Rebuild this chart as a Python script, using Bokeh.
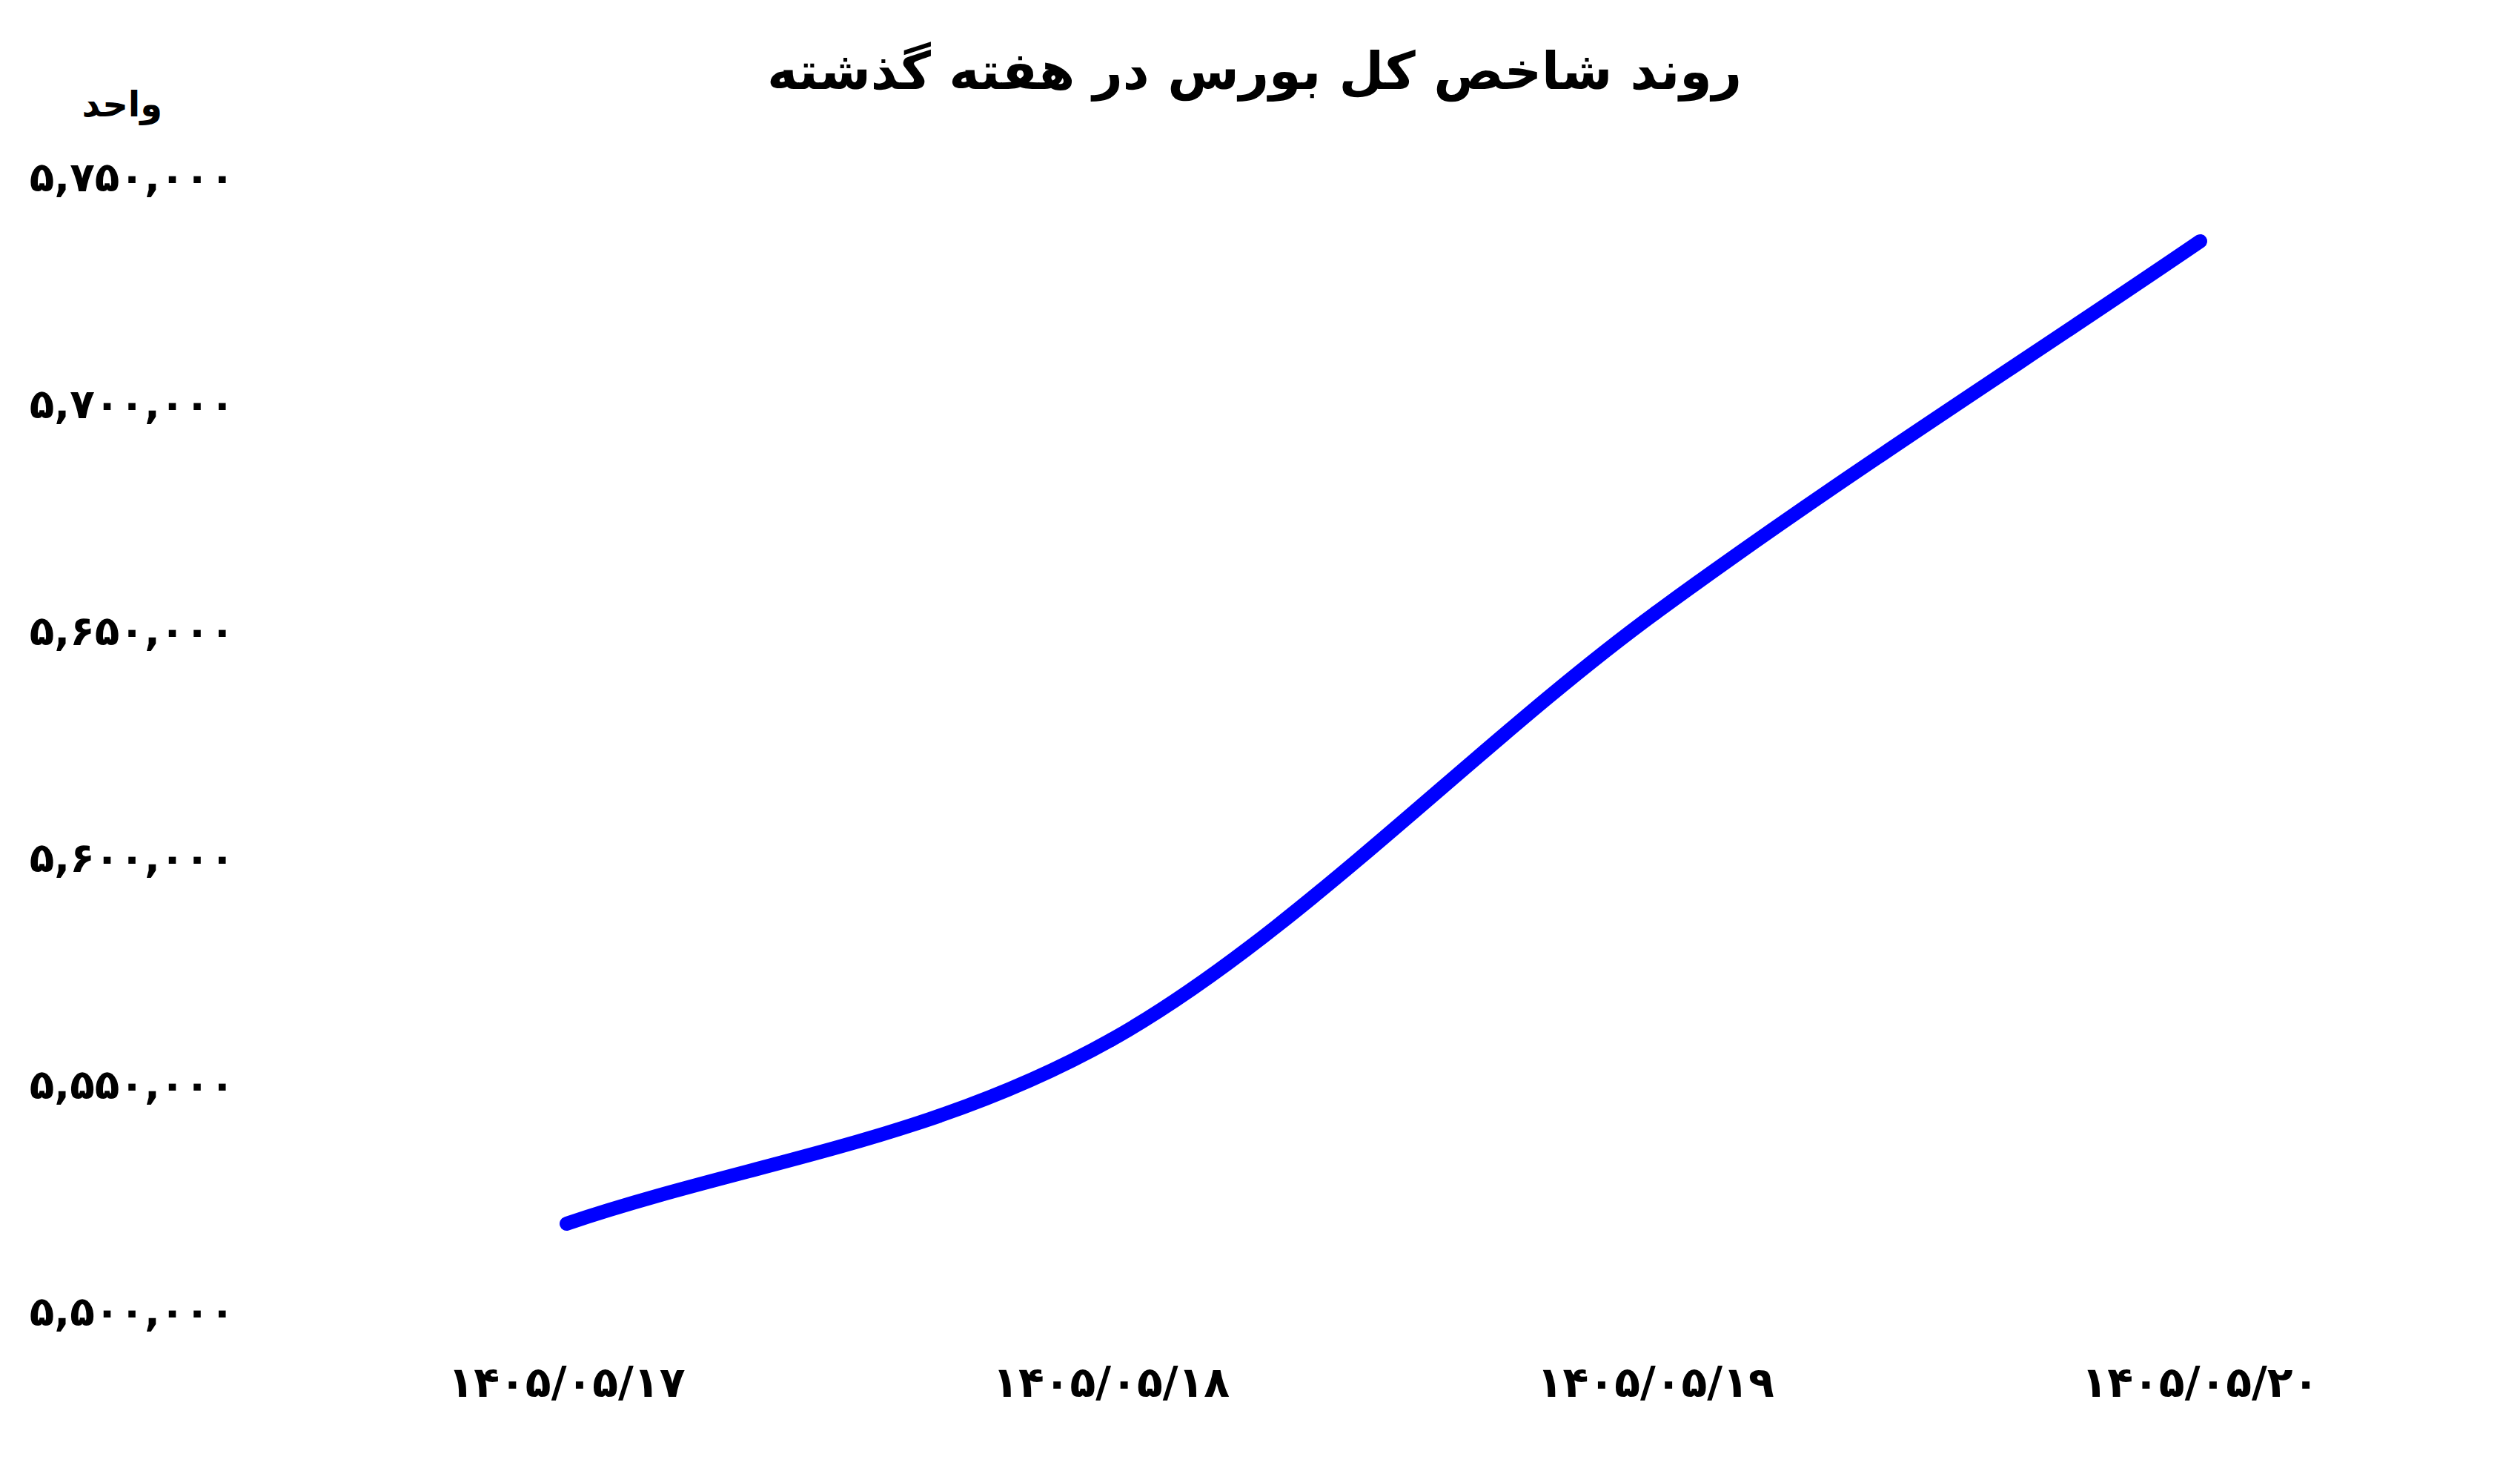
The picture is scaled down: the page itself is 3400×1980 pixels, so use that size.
import numpy as np
from bokeh.plotting import figure
from bokeh.models import Range1d, FixedTicker, Title
from bokeh.embed import file_html
from bokeh.resources import INLINE

# ---- data ----
title_text = "روند شاخص کل بورس در هفته گذشته"
unit_text = "واحد"
dates = ["۱۴۰۵/۰۵/۱۷", "۱۴۰۵/۰۵/۱۸", "۱۴۰۵/۰۵/۱۹", "۱۴۰۵/۰۵/۲۰"]
index_values = [5519300, 5559800, 5653900, 5735800]
y_ticks = [5500000, 5550000, 5600000, 5650000, 5700000, 5750000]
y_tick_labels = ["۵,۵۰۰,۰۰۰", "۵,۵۵۰,۰۰۰", "۵,۶۰۰,۰۰۰",
                 "۵,۶۵۰,۰۰۰", "۵,۷۰۰,۰۰۰", "۵,۷۵۰,۰۰۰"]

FONT = "DejaVu Sans"

W, H = 3384, 1964
p = figure(width=W, height=H, output_backend="svg", toolbar_location=None,
           x_range=Range1d(-0.6016, 3.128), y_range=Range1d(5500000, 5750000),
           min_border_left=322, min_border_right=322,
           min_border_top=238, min_border_bottom=196)
p.outline_line_color = None
p.xgrid.grid_line_color = None
p.ygrid.grid_line_color = None
p.background_fill_color = "white"
p.border_fill_color = "white"

# smooth curve through the points (cubic Hermite -> Bezier)
x = np.arange(len(index_values), dtype=float)
y = np.array(index_values, dtype=float)
t = np.gradient(y)
p.bezier(x0=x[:-1], y0=y[:-1], x1=x[1:], y1=y[1:],
         cx0=x[:-1] + 1/3, cy0=y[:-1] + t[:-1] / 3,
         cx1=x[1:] - 1/3, cy1=y[1:] - t[1:] / 3,
         line_color="#0000FF", line_width=19, line_cap="round")

# axes
for ax in (p.xaxis, p.yaxis):
    ax.axis_line_color = None
    ax.major_tick_line_color = None
    ax.minor_tick_line_color = None
    ax.major_tick_in = 0
    ax.major_tick_out = 0
    ax.major_label_text_font = FONT
    ax.major_label_text_font_style = "bold"
    ax.major_label_text_color = "black"

p.yaxis.ticker = FixedTicker(ticks=y_ticks)
p.yaxis.major_label_overrides = {v: s for v, s in zip(y_ticks, y_tick_labels)}
p.yaxis.major_label_text_font_size = "55px"
p.yaxis.major_label_standoff = 6

p.xaxis.ticker = FixedTicker(ticks=list(range(len(dates))))
p.xaxis.major_label_overrides = {i: s for i, s in enumerate(dates)}
p.xaxis.major_label_text_font_size = "57px"
p.xaxis.major_label_standoff = 62

# titles (unit line sits nearest the frame, main title above it)
p.title.text = title_text
p.title.text_font = FONT
p.title.text_font_style = "bold"
p.title.text_font_size = "70px"
p.title.text_color = "black"
p.title.align = "center"
p.title.standoff = -196

unit = Title(text=unit_text, text_font=FONT, text_font_style="bold",
             text_font_size="48px", text_color="black", align="left",
             offset=-212, standoff=142)
p.add_layout(unit, "above")

open("out.html", "w").write(file_html(p, INLINE))
